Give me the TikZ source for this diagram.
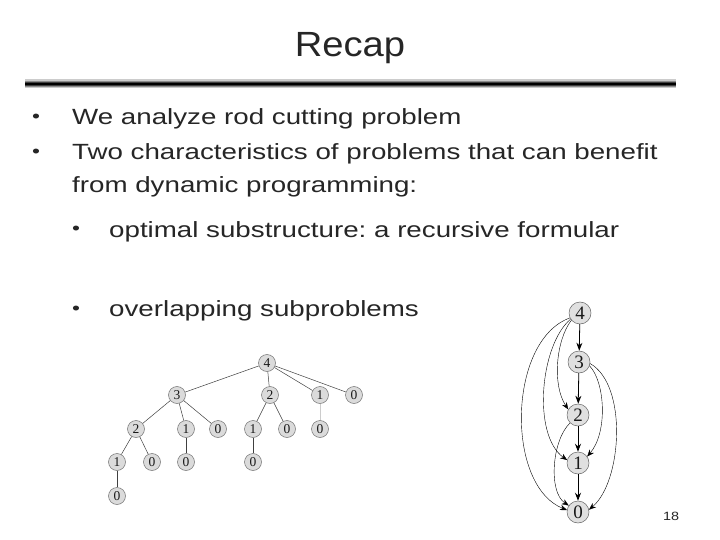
\documentclass[tikz,border=0pt]{standalone}
\usepackage{fontspec}
\setmainfont{Liberation Sans}
\newfontfamily\digitfont{Liberation Serif}
\usetikzlibrary{arrows.meta}
\tikzset{
  body/.style={anchor=base west, inner sep=0pt, font=\fontsize{22}{26}\selectfont, text=black!85},
  tnode/.style={circle, draw=black!55, fill=black!14, inner sep=0pt, minimum size=17pt, line width=0.5pt, text=black!90, font=\digitfont\fontsize{13.5}{13.5}\selectfont},
  tedge/.style={draw=black!75, line width=0.5pt},
  gnode/.style={circle, draw=black!60, fill=black!12, inner sep=0pt, minimum size=22pt, line width=0.5pt, text=black!90, font=\digitfont\fontsize{19}{19}\selectfont},
  gedge/.style={draw=black, line width=0.4pt, -{Stealth[length=7pt,width=5.5pt]}},
  gstraight/.style={draw=black, line width=0.8pt, -{Stealth[length=8pt,width=6pt]}}
}
\newcommand{\wide}[1]{\scalebox{1.26}[1]{#1}}
\begin{document}
\frenchspacing
\begin{tikzpicture}[x=1pt,y=-1pt]
\useasboundingbox (0,0) rectangle (720,540);
\fill[white] (0,0) rectangle (720,540);
% title
\node[anchor=base, inner sep=0pt, font=\fontsize{35}{40}\selectfont, text=black!85] (title) at (350,57) {\scalebox{1.09}[1]{Recap}};
% rule
\coordinate (rl) at (25,84);
\coordinate (rr) at (676,84);
\draw[line width=9pt, black!20] (rl) -- (rr);
\draw[line width=6pt, black!45] (rl) -- (rr);
\draw[line width=3.5pt, black!75] (rl) -- (rr);
\draw[line width=1.5pt, black] (rl) -- (rr);
% bullets and text
\node[body, font=\fontsize{18}{20}\selectfont] (b1) at (32,123) {\wide{•}};
\node[body] (t1) at (72,125) {\wide{We analyze rod cutting problem}};
\node[body, font=\fontsize{18}{20}\selectfont] (b2) at (32,158) {\wide{•}};
\node[body] (t2) at (72,160) {\wide{Two characteristics of problems that can benefit}};
\node[body] (t3) at (72,193) {\wide{from dynamic programming:}};
\node[body, font=\fontsize{18}{20}\selectfont] (b3) at (72,235) {\wide{•}};
\node[body] (t4) at (109,237) {\wide{optimal substructure: a recursive formular}};
\node[body, font=\fontsize{18}{20}\selectfont] (b4) at (72,314) {\wide{•}};
\node[body] (t5) at (109,316) {\wide{overlapping subproblems}};
% page number
\node[anchor=base, inner sep=0pt, font=\fontsize{12}{12}\selectfont, text=black!85] (pg) at (671,520) {\scalebox{1.2}[1]{18}};
% recursion tree
\node[tnode] (r4) at (267,363) {4};
\node[tnode] (a3) at (177,395) {3};
\node[tnode] (a2) at (270,395) {2};
\node[tnode] (a1) at (320,395) {1};
\node[tnode] (a0) at (354,395) {0};
\node[tnode] (b2n) at (136,429) {2};
\node[tnode] (b1n) at (186,429) {1};
\node[tnode] (b0n) at (218,429) {0};
\node[tnode] (c1) at (253,429) {1};
\node[tnode] (c0) at (287,429) {0};
\node[tnode] (d0) at (320,429) {0};
\node[tnode] (e1) at (117,462) {1};
\node[tnode] (e0) at (152,462) {0};
\node[tnode] (f0) at (186,462) {0};
\node[tnode] (g0) at (253,462) {0};
\node[tnode] (h0) at (117,496) {0};
\draw[tedge] (r4) -- (a3);
\draw[tedge] (r4) -- (a2);
\draw[tedge] (r4) -- (a1);
\draw[tedge] (r4) -- (a0);
\draw[tedge] (a3) -- (b2n);
\draw[tedge] (a3) -- (b1n);
\draw[tedge] (a3) -- (b0n);
\draw[tedge] (a2) -- (c1);
\draw[tedge] (a2) -- (c0);
\draw[tedge, draw=black!20, line width=1pt] (a1) -- (d0);
\draw[tedge] (b2n) -- (e1);
\draw[tedge] (b2n) -- (e0);
\draw[tedge] (b1n) -- (f0);
\draw[tedge] (c1) -- (g0);
\draw[tedge] (e1) -- (h0);
% subproblem graph
\node[gnode] (g4) at (580,313) {4};
\node[gnode] (g3) at (579,362) {3};
\node[gnode] (g2) at (578,415) {2};
\node[gnode] (g1) at (578,463) {1};
\node[gnode] (gz) at (578,512) {0};
\draw[gstraight] (g4) -- (g3);
\draw[gstraight] (g3) -- (g2);
\draw[gstraight] (g2) -- (g1);
\draw[gstraight] (g1) -- (gz);
\draw[gedge] (g4.220) .. controls (556,340) and (552,385) .. (g2.150);
\draw[gedge] (g4.213) .. controls (540,345) and (532,435) .. (g1.165);
\draw[gedge] (g4.206) .. controls (508,340) and (505,485) .. (gz.170);
\draw[gedge] (g2.225) .. controls (552,440) and (548,492) .. (gz.145);
\draw[gedge] (g3.-20) .. controls (605,382) and (608,432) .. (g1.35);
\draw[gedge] (g3.-8) .. controls (628,385) and (622,482) .. (gz.12);
\end{tikzpicture}
\end{document}
